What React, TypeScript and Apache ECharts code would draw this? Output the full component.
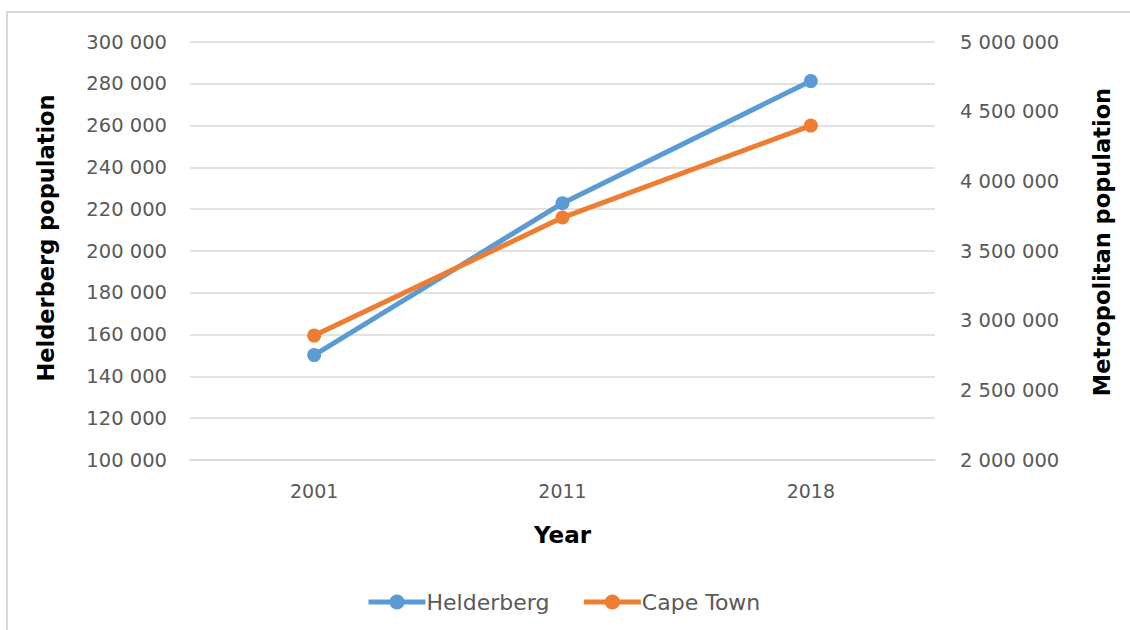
import React, { useEffect, useRef } from "react";
import * as echarts from "echarts";

const years = ["2001", "2011", "2018"];
const helderberg = [150200, 222900, 281300];
const capeTown = [2893000, 3740000, 4400000];
const leftTicks = { min: 100000, max: 300000, interval: 20000 };
const rightTicks = { min: 2000000, max: 5000000, interval: 500000 };
const leftTitle = "Helderberg population";
const rightTitle = "Metropolitan population";
const xTitle = "Year";

const fmt = (v: number) => String(Math.round(v)).replace(/\B(?=(\d{3})+(?!\d))/g, " ");

export default function App() {
  const ref = useRef<HTMLDivElement>(null);
  useEffect(() => {
    const chart = echarts.init(ref.current!, null, { renderer: "svg" });
    const font = "'DejaVu Sans', sans-serif";
    const titleFont = "bold 22.5px 'DejaVu Sans', sans-serif";
    chart.setOption({
      animation: false,
      textStyle: { fontFamily: font },
      grid: { left: 190, right: 195, top: 42, bottom: 170 },
      graphic: [
        {
          type: "text",
          x: 46,
          y: 238,
          rotation: Math.PI / 2,
          style: { text: leftTitle, font: titleFont, fill: "#000", align: "center", verticalAlign: "middle" },
        },
        {
          type: "text",
          x: 1102,
          y: 242,
          rotation: Math.PI / 2,
          style: { text: rightTitle, font: titleFont, fill: "#000", align: "center", verticalAlign: "middle" },
        },
      ],
      legend: {
        bottom: 12,
        left: 361,
        itemWidth: 57,
        itemHeight: 19,
        itemGap: 32,
        lineStyle: { width: 5 },
        textStyle: { fontSize: 22, color: "#595959", fontFamily: font, padding: [0, 0, 0, -4] },
        data: ["Helderberg", "Cape Town"],
      },
      xAxis: {
        type: "category",
        data: years,
        boundaryGap: true,
        axisLine: { lineStyle: { color: "#d9d9d9", width: 1.5 } },
        axisTick: { show: false },
        axisLabel: { fontSize: 19, color: "#595959", margin: 21 },
        name: xTitle,
        nameLocation: "middle",
        nameGap: 63,
        nameTextStyle: { fontSize: 23, fontWeight: "bold", color: "#000" },
      },
      yAxis: [
        {
          type: "value",
          ...leftTicks,
          axisLine: { show: false },
          axisTick: { show: false },
          splitLine: { lineStyle: { color: "#d9d9d9", width: 1.5 } },
          axisLabel: { fontSize: 19.5, color: "#595959", margin: 23, formatter: fmt },
        },
        {
          type: "value",
          ...rightTicks,
          position: "right",
          axisLine: { show: false },
          axisTick: { show: false },
          splitLine: { show: false },
          axisLabel: { fontSize: 19.5, color: "#595959", margin: 25, formatter: fmt },
        },
      ],
      series: [
        {
          name: "Helderberg",
          type: "line",
          yAxisIndex: 0,
          data: helderberg,
          symbol: "circle",
          symbolSize: 14,
          lineStyle: { width: 5, color: "#5B9BD5" },
          itemStyle: { color: "#5B9BD5" },
        },
        {
          name: "Cape Town",
          type: "line",
          yAxisIndex: 1,
          data: capeTown,
          symbol: "circle",
          symbolSize: 14,
          lineStyle: { width: 5, color: "#ED7D31" },
          itemStyle: { color: "#ED7D31" },
        },
      ],
    });
    return () => chart.dispose();
  }, []);
  return (
    <div style={{ position: "fixed", left: 0, top: 0, width: 1130, height: 630, background: "#fff" }}>
      <div
        style={{
          position: "absolute",
          left: 6,
          top: 11,
          width: 1130,
          height: 630,
          borderLeft: "2px solid #d9d9d9",
          borderTop: "2px solid #d9d9d9",
        }}
      />
      <div ref={ref} style={{ position: "absolute", left: 0, top: 0, width: 1130, height: 630 }} />
    </div>
  );
}
